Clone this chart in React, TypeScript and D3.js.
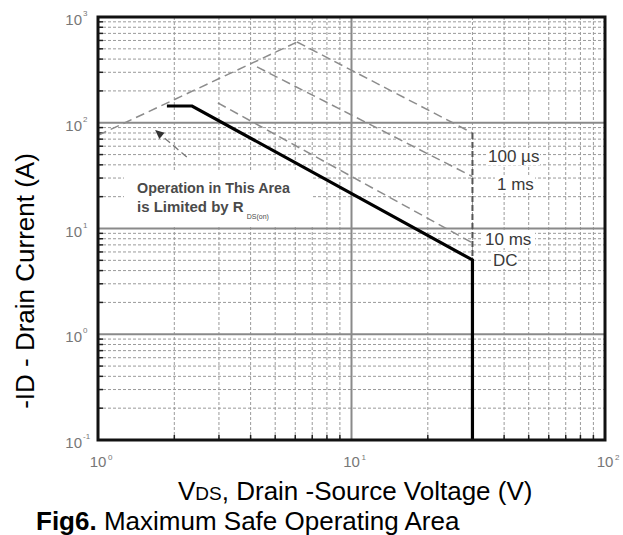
import React from "react";
import * as d3 from "d3";

// ---- data ----
const xDecades = [1, 10, 100];
const xExponents = ["0", "1", "2"];
const yDecades = [0.1, 1, 10, 100, 1000];
const yExponents = ["-1", "0", "1", "2", "3"];
const minorSteps = [2, 3, 4, 5, 6, 7, 8, 9];

const rdsV = [1, 6.1];
const rdsI = [76, 580];
const us100V = [6.1, 30];
const us100I = [580, 80];
const ms1V = [4.24, 30];
const ms1I = [337, 31];
const ms10V = [2.97, 30];
const ms10I = [154, 7.3];
const pulseEdgeV = [30, 30];
const pulseEdgeI = [80, 5.04];
const dcV = [1.87, 2.35, 30, 30];
const dcI = [144, 144, 5.04, 0.1];
const arrowV = [2.24, 1.68];
const arrowI = [47.4, 85.3];

const curveLabels = ["100 µs", "1 ms", "10 ms", "DC"];

const W = 623;
const H = 535;
const FONT = "'Liberation Sans', Arial, Helvetica, sans-serif";

export default function App() {
  const x = d3.scaleLog().domain([1, 100]).range([98, 605]);
  const y = d3.scaleLog().domain([0.1, 1000]).range([440, 17]);

  const line = d3
    .line<[number, number]>()
    .x((d) => x(d[0]))
    .y((d) => y(d[1]));
  const zip = (a: number[], b: number[]) => a.map((v, i) => [v, b[i]] as [number, number]);

  const xMinor: number[] = [];
  xDecades.slice(0, -1).forEach((d) => minorSteps.forEach((s) => xMinor.push(d * s)));
  const yMinor: number[] = [];
  yDecades.slice(0, -1).forEach((d) => minorSteps.forEach((s) => yMinor.push(d * s)));

  const [x0, x1] = x.range();
  const [y0, y1] = y.range();

  const ax1 = x(arrowV[0]), ay1 = y(arrowI[0]);
  const ax2 = x(arrowV[1]), ay2 = y(arrowI[1]);
  const ang = Math.atan2(ay2 - ay1, ax2 - ax1);
  const ah = 9, aw = 4;
  const arrowHead = [
    [ax2, ay2],
    [ax2 - ah * Math.cos(ang) + aw * Math.sin(ang), ay2 - ah * Math.sin(ang) - aw * Math.cos(ang)],
    [ax2 - ah * Math.cos(ang) - aw * Math.sin(ang), ay2 - ah * Math.sin(ang) + aw * Math.cos(ang)],
  ]
    .map((p) => p.join(","))
    .join(" ");

  const dashStyle = { fill: "none", stroke: "#8c8c8c", strokeWidth: 1.5, strokeDasharray: "9,5" };

  const labelPos = [
    { x: 488, y: 162, w: 54 },
    { x: 497, y: 190, w: 40 },
    { x: 485, y: 245, w: 52 },
    { x: 493, y: 266, w: 27 },
  ];

  return (
    <svg width={W} height={H} style={{ position: "absolute", left: 0, top: 0, background: "#fff" }} fontFamily={FONT}>
      <rect x={0} y={0} width={W} height={H} fill="#fff" />
      {/* minor grid */}
      <g stroke="#9a9a9a" strokeWidth={1} strokeDasharray="3,2">
        {xMinor.map((v) => (
          <line key={"xm" + v} x1={x(v)} x2={x(v)} y1={y1} y2={y0} />
        ))}
        {yMinor.map((v) => (
          <line key={"ym" + v} x1={x0} x2={x1} y1={y(v)} y2={y(v)} />
        ))}
      </g>
      {/* major grid */}
      <g stroke="#8a8a8a" strokeWidth={2}>
        {xDecades.slice(1, -1).map((v) => (
          <line key={"xM" + v} x1={x(v)} x2={x(v)} y1={y1} y2={y0} />
        ))}
        {yDecades.slice(1, -1).map((v) => (
          <line key={"yM" + v} x1={x0} x2={x1} y1={y(v)} y2={y(v)} />
        ))}
      </g>
      {/* frame ticks */}
      <g stroke="#222" strokeWidth={1.5}>
        {yMinor.map((v) => (
          <line key={"lt" + v} x1={x0} x2={x0 + 5} y1={y(v)} y2={y(v)} />
        ))}
        {xMinor.map((v) => (
          <line key={"bt" + v} x1={x(v)} x2={x(v)} y1={y0} y2={y0 - 5} />
        ))}
      </g>

      {/* annotation background */}
      <rect x={124} y={171} width={189} height={56} fill="#fff" />
      {/* label backgrounds */}
      {labelPos.map((p, i) => (
        <rect key={"lb" + i} x={p.x - 2} y={p.y - 14} width={p.w} height={17} fill="#fff" />
      ))}

      {/* curves */}
      <path d={line(zip(rdsV, rdsI)) || ""} {...dashStyle} />
      <path d={line(zip(us100V, us100I)) || ""} {...dashStyle} />
      <path d={line(zip(ms1V, ms1I)) || ""} {...dashStyle} />
      <path d={line(zip(ms10V, ms10I)) || ""} {...dashStyle} />
      <path d={line(zip(pulseEdgeV, pulseEdgeI)) || ""} {...dashStyle} stroke="#555" strokeWidth={2} strokeDasharray="6,3" />
      <path d={line(zip(dcV, dcI)) || ""} fill="none" stroke="#000" strokeWidth={3.2} strokeLinejoin="miter" />

      {/* arrow */}
      <line x1={ax1} y1={ay1} x2={ax2} y2={ay2} stroke="#777" strokeWidth={1.3} strokeDasharray="7,4" />
      <polygon points={arrowHead} fill="#333" />

      {/* frame */}
      <rect x={x0} y={y1} width={x1 - x0} height={y0 - y1} fill="none" stroke="#111" strokeWidth={3} />

      {/* annotation text */}
      <text x={137} y={193} fontSize={15} fill="#4a4a4a" fontWeight={600} textLength={153} lengthAdjust="spacingAndGlyphs">
        Operation in This Area
      </text>
      <text x={137} y={212} fontSize={15} fill="#4a4a4a" fontWeight={600}>
        is Limited by R
        <tspan fontSize={7} dx={3} dy={7} fontWeight={400}>
          DS(on)
        </tspan>
      </text>

      {/* curve labels */}
      {curveLabels.map((t, i) => (
        <text key={"cl" + i} x={labelPos[i].x} y={labelPos[i].y} fontSize={17} fill="#3a3a3a">
          {t}
        </text>
      ))}

      {/* y tick labels */}
      {yDecades.map((v, i) => (
        <g key={"yl" + v} fill="#777">
          <text x={82} y={y(v) + 8} fontSize={15} textAnchor="end">
            10
          </text>
          <text x={83} y={y(v) - 1} fontSize={8}>
            {yExponents[i]}
          </text>
        </g>
      ))}
      {/* x tick labels */}
      {xDecades.map((v, i) => (
        <g key={"xl" + v} fill="#777">
          <text x={x(v)} y={467} fontSize={15} textAnchor="middle">
            10
          </text>
          <text x={x(v) + 10} y={460} fontSize={8}>
            {xExponents[i]}
          </text>
        </g>
      ))}

      {/* axis titles */}
      <text x={178} y={500} fontSize={26} fill="#000">
        V<tspan fontSize={19}>DS</tspan>, Drain -Source Voltage (V)
      </text>
      <text transform={`translate(34,${281}) rotate(-90)`} textAnchor="middle" fontSize={26} fill="#000">
        -ID - Drain Current (A)
      </text>
      <text x={36} y={530} fontSize={26} fill="#000">
        <tspan fontWeight="bold">Fig6.</tspan> Maximum Safe Operating Area
      </text>
    </svg>
  );
}
